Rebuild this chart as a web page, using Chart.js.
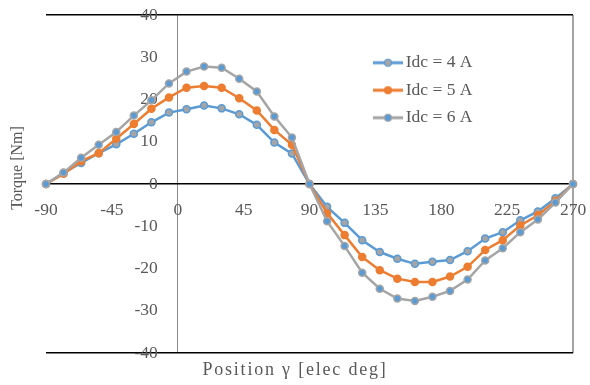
<!DOCTYPE html>
<html>
<head>
<meta charset="utf-8">
<script src="https://cdn.jsdelivr.net/npm/chart.js@4/dist/chart.umd.min.js"></script>
<style>
  html, body { margin: 0; padding: 0; background: #fff; }
  #wrap { width: 590px; height: 385px; }
</style>
</head>
<body>
<div id="wrap"><canvas id="myChart"></canvas></div>
<script>
// rotor position in electrical degrees
const positions = [-90, -78, -66, -54, -42, -30, -18, -6, 6, 18, 30, 42, 54, 66, 78, 90,
  102, 114, 126, 138, 150, 162, 174, 186, 198, 210, 222, 234, 246, 258, 270];

// torque [Nm] for each dc current
const torque4A = [0, 2.6, 5.0, 7.3, 9.4, 11.9, 14.6, 16.9, 17.7, 18.6, 17.9, 16.5, 14.0, 9.8, 7.2, 0,
  -5.4, -9.2, -13.3, -16.1, -17.7, -18.9, -18.4, -18.0, -15.9, -12.9, -11.4, -8.6, -6.5, -3.4, 0];
const torque5A = [0, 2.4, 5.4, 7.3, 10.7, 14.2, 17.8, 20.5, 22.8, 23.2, 22.8, 20.3, 17.4, 12.8, 9.3, 0,
  -6.9, -12.1, -17.3, -20.4, -22.4, -23.2, -23.2, -21.9, -19.6, -15.6, -13.3, -9.8, -7.4, -4.0, 0];
const torque6A = [0, 2.7, 6.2, 9.3, 12.3, 16.2, 19.8, 23.8, 26.6, 27.8, 27.5, 24.9, 21.9, 16.0, 11.0, 0,
  -8.8, -14.7, -21.0, -24.8, -27.1, -27.7, -26.7, -25.3, -22.6, -18.1, -15.2, -11.4, -8.4, -4.4, 0];

const seriesLabels = ['Idc = 4 A', 'Idc = 5 A', 'Idc = 6 A'];
const xTicks = [-90, -45, 0, 45, 90, 135, 180, 225, 270];
const yTicks = [-40, -30, -20, -10, 0, 10, 20, 30, 40];

const BLUE = '#5b9bd5';
const ORANGE = '#ed7d31';
const GRAY = '#a5a5a5';
const TEXT = '#595959';
const FONT = "'Liberation Serif', 'Times New Roman', serif";

function toPoints(values) {
  return positions.map((x, i) => ({ x: x, y: values[i] }));
}

// small line + marker picture for the legend
function legendIcon(lineColor, fill, edge) {
  const c = document.createElement('canvas');
  c.width = 30;
  c.height = 10;
  const g = c.getContext('2d');
  g.strokeStyle = lineColor;
  g.lineWidth = 3;
  g.beginPath();
  g.moveTo(0, 5);
  g.lineTo(30, 5);
  g.stroke();
  g.beginPath();
  g.arc(15, 5, 3.5, 0, Math.PI * 2);
  g.fillStyle = fill;
  g.fill();
  g.strokeStyle = edge;
  g.lineWidth = 1.2;
  g.stroke();
  return c;
}

const icons = [
  legendIcon(BLUE, GRAY, BLUE),
  legendIcon(ORANGE, ORANGE, ORANGE),
  legendIcon(GRAY, BLUE, GRAY)
];

// move the legend box to the upper right part of the plot
const legendShift = {
  id: 'legendShift',
  beforeDraw(chart) {
    const lg = chart.legend;
    if (!lg) return;
    lg.left = 369;
    lg.top = 44;
    lg.right = lg.left + lg.width;
    lg.bottom = lg.top + lg.height;
  }
};

// axis titles
const axisTitles = {
  id: 'axisTitles',
  afterDraw(chart) {
    const ctx = chart.ctx;
    ctx.save();
    ctx.fillStyle = TEXT;
    ctx.textAlign = 'center';
    ctx.textBaseline = 'middle';
    ctx.font = '18px ' + FONT;
    ctx.letterSpacing = '1.8px';
    ctx.fillText('Position γ [elec deg]', 295, 370);
    ctx.letterSpacing = '0px';
    ctx.translate(18, 168);
    ctx.rotate(-Math.PI / 2);
    ctx.font = '16px ' + FONT;
    ctx.fillText('Torque [Nm]', 0, 0);
    ctx.restore();
  }
};

function makeDataset(label, values, line, fill, edge, order) {
  return {
    label: label,
    data: toPoints(values),
    borderColor: line,
    backgroundColor: line,
    borderWidth: 2.5,
    pointRadius: 3.5,
    pointBorderWidth: 1.5,
    pointBackgroundColor: fill,
    pointBorderColor: edge,
    tension: 0,
    clip: false,
    order: order
  };
}

const ctx = document.getElementById('myChart').getContext('2d');
const myChart = new Chart(ctx, {
  type: 'line',
  data: {
    datasets: [
      makeDataset(seriesLabels[0], torque4A, BLUE, GRAY, BLUE, 2),
      makeDataset(seriesLabels[1], torque5A, ORANGE, ORANGE, ORANGE, 1),
      makeDataset(seriesLabels[2], torque6A, GRAY, BLUE, GRAY, 0)
    ]
  },
  options: {
    responsive: true,
    maintainAspectRatio: false,
    animation: false,
    layout: {
      padding: { left: 46, right: 17, top: 15, bottom: 32 }
    },
    scales: {
      x: {
        type: 'linear',
        position: { y: 0 },
        min: -90,
        max: 270,
        afterBuildTicks: (scale) => { scale.ticks = xTicks.map(v => ({ value: v })); },
        afterFit: (scale) => { scale.paddingLeft = 0; scale.paddingRight = 0; },
        ticks: {
          color: TEXT,
          font: { family: FONT, size: 17.5 },
          padding: 16,
          maxRotation: 0
        },
        grid: {
          drawTicks: false,
          color: (c) => c.tick && c.tick.value === 0 ? '#8c8c8c' : (c.tick && c.tick.value === 270 ? GRAY : 'transparent'),
          lineWidth: (c) => c.tick && c.tick.value === 270 ? 2 : 1
        },
        border: { color: '#000', width: 1.5 }
      },
      y: {
        type: 'linear',
        position: { x: -13.66 },
        min: -40,
        max: 40,
        afterBuildTicks: (scale) => { scale.ticks = yTicks.map(v => ({ value: v })); },
        ticks: {
          color: TEXT,
          font: { family: FONT, size: 17.5 },
          padding: 0
        },
        grid: {
          drawTicks: false,
          color: (c) => c.tick && Math.abs(c.tick.value) === 40 ? '#000' : 'transparent',
          lineWidth: 1.5
        },
        border: { display: false }
      }
    },
    plugins: {
      tooltip: { enabled: false },
      legend: {
        position: 'chartArea',
        align: 'start',
        labels: {
          usePointStyle: true,
          pointStyleWidth: 18,
          boxHeight: 10,
          padding: 10,
          color: TEXT,
          font: { family: FONT, size: 17.5 },
          sort: (a, b) => a.datasetIndex - b.datasetIndex,
          generateLabels: (chart) => {
            const items = Chart.defaults.plugins.legend.labels.generateLabels(chart);
            items.forEach(it => { it.pointStyle = icons[it.datasetIndex]; });
            return items;
          }
        }
      }
    }
  },
  plugins: [legendShift, axisTitles]
});
</script>
</body>
</html>
